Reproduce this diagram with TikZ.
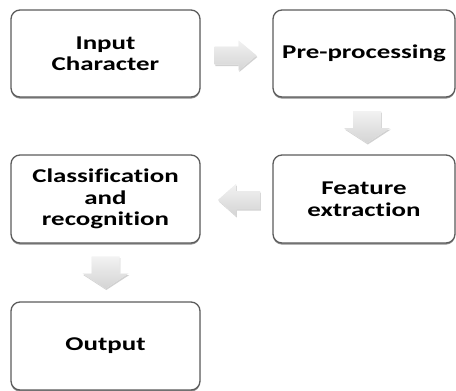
\documentclass[tikz,border=0pt]{standalone}
\usepackage{fontspec}
\setmainfont{Carlito}[FakeStretch=1.38,Ligatures=NoCommon]
\usetikzlibrary{shadows,calc}
\definecolor{boxline}{HTML}{5C5C5C}
\definecolor{arrtop}{HTML}{F2F2F2}
\definecolor{arrbot}{HTML}{D4D4D4}
\tikzset{
  stepbox/.style={draw=boxline, line width=1.3pt, fill=white, rounded corners=9pt,
    minimum height=87pt, inner sep=0pt, align=center,
    font=\fontsize{19.5}{21.5}\selectfont\bfseries,
    drop shadow={shadow xshift=0pt, shadow yshift=-1.6pt, opacity=0.45, fill=black}},
  blockarrow/.style={fill=arrtop, draw=none, top color=arrtop, bottom color=arrbot,
    drop shadow={shadow xshift=0.8pt, shadow yshift=-1.5pt, opacity=0.18, fill=black}}
}
\begin{document}
\begin{tikzpicture}[x=1pt,y=-1pt]
\useasboundingbox (0,0) rectangle (456,391);
\node[stepbox, minimum width=189pt] (inp) at (105.5,53.5) {Input\\Character};
\node[stepbox, minimum width=182pt] (pre) at (364,53.5) {Pre-processing};
\node[stepbox, minimum width=182pt, minimum height=88pt] (fea) at (364,199) {Feature\\extraction};
\node[stepbox, minimum width=189pt, minimum height=88pt] (cla) at (105.5,199) {Classification\\and\\recognition};
\node[stepbox, minimum width=189pt, minimum height=88pt] (out) at (105.5,346) {Output};
% right arrow
\coordinate (a1) at ($(inp.east)!0.5!(pre.west)+(-1,2)$);
\path[blockarrow] ($(a1)+(-21,-9)$) -- ++(24,0) -- ++(0,-6) -- ++(18,15) -- ++(-18,15) -- ++(0,-6) -- ++(-24,0) -- cycle;
% down arrow
\coordinate (a2) at ($(pre.south)!0.5!(fea.north)+(3,1)$);
\path[blockarrow] ($(a2)+(-14,-16)$) -- ++(28,0) -- ++(0,17) -- ++(9,0) -- ++(-23,15) -- ++(-23,-15) -- ++(9,0) -- cycle;
% left arrow
\coordinate (a3) at ($(cla.east)!0.5!(fea.west)+(2.5,1)$);
\path[blockarrow] ($(a3)+(21,-9)$) -- ++(-24,0) -- ++(0,-7) -- ++(-18,16) -- ++(18,16) -- ++(0,-7) -- ++(24,0) -- cycle;
% down arrow 2
\coordinate (a4) at ($(cla.south)!0.5!(out.north)+(0,0)$);
\path[blockarrow] ($(a4)+(-14,-16)$) -- ++(28,0) -- ++(0,17) -- ++(9,0) -- ++(-23,15) -- ++(-23,-15) -- ++(9,0) -- cycle;
\end{tikzpicture}
\end{document}
